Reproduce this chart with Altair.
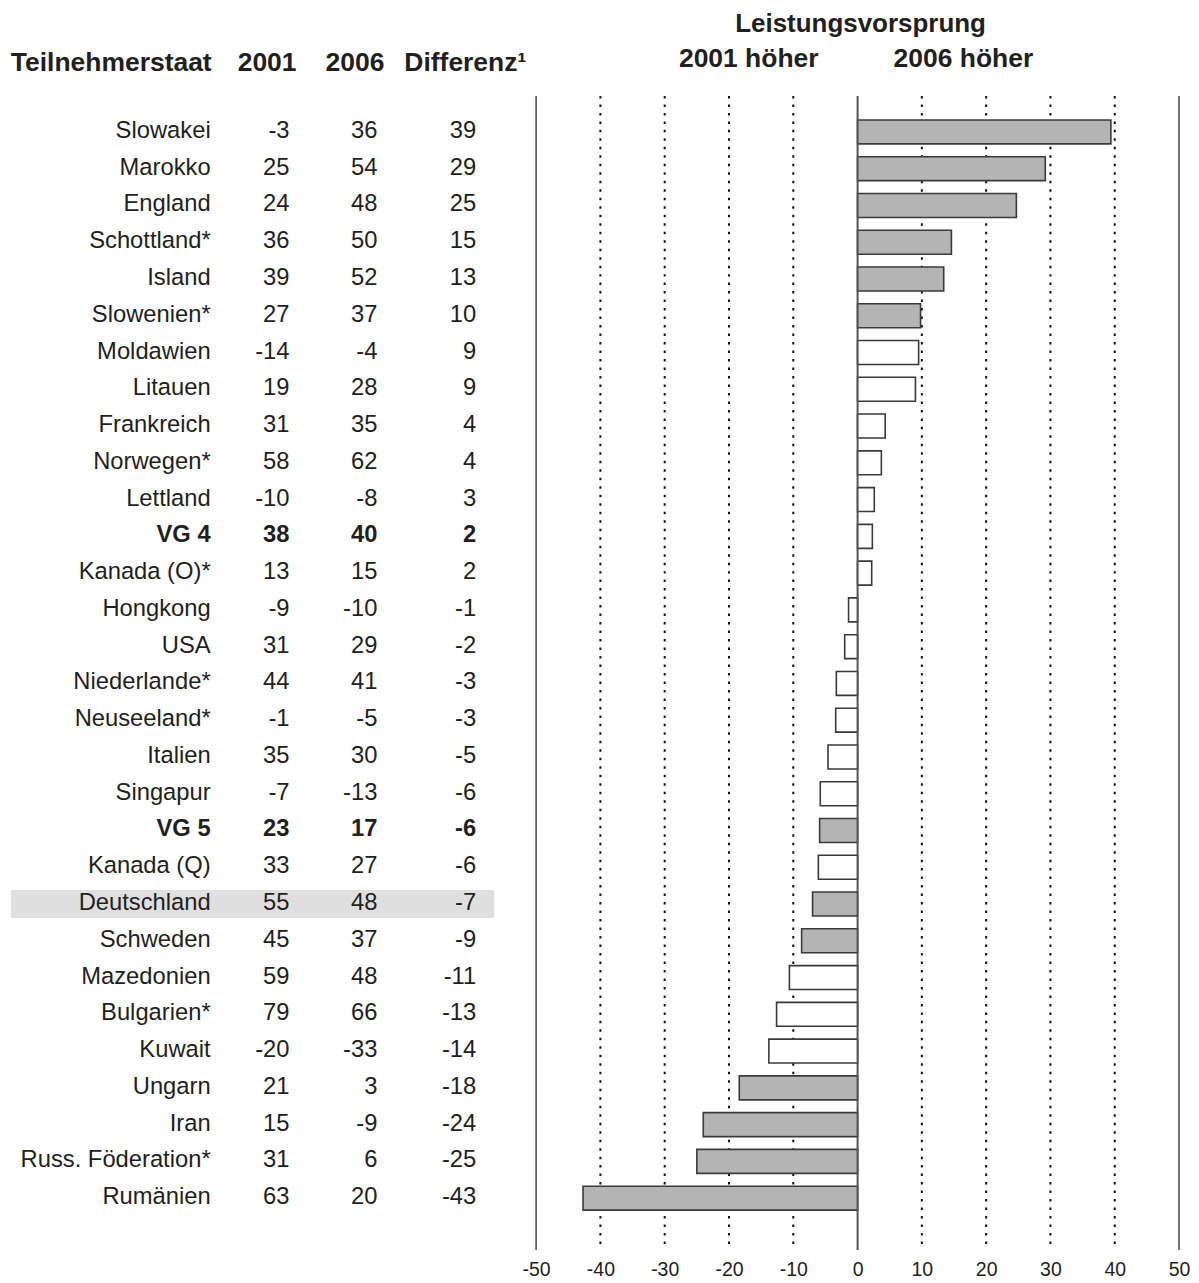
import altair as alt
import pandas as pd

# ---- data ----
COUNTRIES = ["Slowakei", "Marokko", "England", "Schottland*", "Island", "Slowenien*",
             "Moldawien", "Litauen", "Frankreich", "Norwegen*", "Lettland", "VG 4",
             "Kanada (O)*", "Hongkong", "USA", "Niederlande*", "Neuseeland*", "Italien",
             "Singapur", "VG 5", "Kanada (Q)", "Deutschland", "Schweden", "Mazedonien",
             "Bulgarien*", "Kuwait", "Ungarn", "Iran", "Russ. Föderation*", "Rumänien"]
V2001 = [-3, 25, 24, 36, 39, 27, -14, 19, 31, 58, -10, 38, 13, -9, 31, 44, -1, 35, -7, 23,
         33, 55, 45, 59, 79, -20, 21, 15, 31, 63]
V2006 = [36, 54, 48, 50, 52, 37, -4, 28, 35, 62, -8, 40, 15, -10, 29, 41, -5, 30, -13, 17,
         27, 48, 37, 48, 66, -33, 3, -9, 6, 20]
DIFF = [39, 29, 25, 15, 13, 10, 9, 9, 4, 4, 3, 2, 2, -1, -2, -3, -3, -5, -6, -6,
        -6, -7, -9, -11, -13, -14, -18, -24, -25, -43]
# bar lengths (unrounded differences, estimated from the bars)
BAR = [39.4, 29.2, 24.7, 14.6, 13.4, 9.8, 9.5, 9.0, 4.3, 3.7, 2.6, 2.3, 2.2, -1.4, -2.0,
       -3.3, -3.4, -4.6, -5.8, -5.9, -6.1, -7.0, -8.7, -10.6, -12.6, -13.8, -18.4, -24.0,
       -25.0, -42.7]
SIGNIFICANT = ["ja", "ja", "ja", "ja", "ja", "ja", "nein", "nein", "nein", "nein", "nein",
               "nein", "nein", "nein", "nein", "nein", "nein", "nein", "nein", "ja", "nein",
               "ja", "ja", "nein", "nein", "nein", "ja", "ja", "ja", "ja"]
BOLD_ROWS = ["VG 4", "VG 5"]
HIGHLIGHT = ["Deutschland"]
TICKS = [-50, -40, -30, -20, -10, 0, 10, 20, 30, 40, 50]
SOLID_LINES = [-50, 0, 50]
DOTTED_LINES = [-40, -30, -20, -10, 10, 20, 30, 40]

df = pd.DataFrame({
    "land": COUNTRIES,
    "j2001": [str(v) for v in V2001],
    "j2006": [str(v) for v in V2006],
    "diff": [str(v) for v in DIFF],
    "bar": BAR,
    "sig": SIGNIFICANT,
})

FONT = "Arial, Liberation Sans, Helvetica, sans-serif"
TXT = "#231f20"

yscale = alt.Scale(domain=COUNTRIES, paddingInner=0.348, paddingOuter=0.868, align=0.376)
xscale = alt.Scale(domain=[-50, 50], range=[529, 1173], nice=False, zero=False)

Y = alt.Y("land:N", scale=yscale, axis=None, sort=COUNTRIES)

base = alt.Chart(df)

# highlight row
highlight = base.transform_filter(
    alt.FieldOneOfPredicate(field="land", oneOf=HIGHLIGHT)
).mark_bar(height=28, orient="horizontal", color="#dfdfdf").encode(
    y=Y, x=alt.value(3), x2=alt.value(487)
)

dotted = alt.Chart(pd.DataFrame({"v": DOTTED_LINES})).mark_rule(
    color="#111111", strokeWidth=2, strokeDash=[2.5, 6]
).encode(x=alt.X("v:Q", scale=xscale))

solid = alt.Chart(pd.DataFrame({"v": SOLID_LINES})).mark_rule(
    color="#555555", strokeWidth=1.6
).encode(x=alt.X("v:Q", scale=xscale))

bars = base.mark_bar(height=24, orient="horizontal", stroke="#3a3a3a", strokeWidth=1.6).encode(
    y=Y,
    x=alt.X("bar:Q", scale=xscale,
            axis=alt.Axis(values=TICKS, domain=False, ticks=False, grid=False, title=None,
                          labelExpr="toString(datum.value)", labelFont=FONT,
                          labelFontSize=19.5, labelColor=TXT, labelPadding=11,
                          labelFlush=False, labelOverlap=False)),
    x2=alt.datum(0),
    fill=alt.Fill("sig:N", scale=alt.Scale(domain=["ja", "nein"], range=["#b4b4b4", "#ffffff"]),
                  legend=None),
)

zero_on_top = alt.Chart(pd.DataFrame({"v": [0]})).mark_rule(
    color="#555555", strokeWidth=1.6
).encode(x=alt.X("v:Q", scale=xscale))

is_bold = alt.FieldOneOfPredicate(field="land", oneOf=BOLD_ROWS)

def col(field, xpos, bold):
    src = base.transform_filter(is_bold) if bold else base.transform_filter({"not": is_bold.to_dict()})
    return src.mark_text(align="right", baseline="middle", font=FONT, fontSize=23.8, dy=-1,
                         fontWeight="bold" if bold else "normal",
                         color=TXT).encode(y=Y, x=alt.value(xpos), text=f"{field}:N")

table = []
for f, xp in [("land", 203), ("j2001", 282), ("j2006", 370), ("diff", 469)]:
    table.append(col(f, xp, False))
    table.append(col(f, xp, True))

def header(label, xpos, ypos, align, size=26.5):
    return alt.Chart(pd.DataFrame({"t": [label]})).mark_text(
        align=align, baseline="middle", font=FONT, fontSize=size, fontWeight="bold", color=TXT
    ).encode(text="t:N", x=alt.value(xpos), y=alt.value(ypos))

headers = [
    header("Teilnehmerstaat", 204, -33, "right"),
    header("2001", 289, -33, "right"),
    header("2006", 377, -33, "right"),
    header("Differenz\u00b9", 397, -33, "left"),
    header("Leistungsvorsprung", 854, -72, "center", 26),
    header("2001 höher", 742, -37, "center"),
    header("2006 höher", 957, -37, "center"),
]

chart = alt.layer(highlight, dotted, solid, bars, zero_on_top, *table, *headers).properties(
    width=1173, height=1156,
    autosize=alt.AutoSizeParams(type="none"),
    padding={"left": 0, "top": 87, "right": 12, "bottom": 32},
).configure_view(stroke=None)

chart.save("out.html", embed_options={"renderer": "svg", "actions": False})
